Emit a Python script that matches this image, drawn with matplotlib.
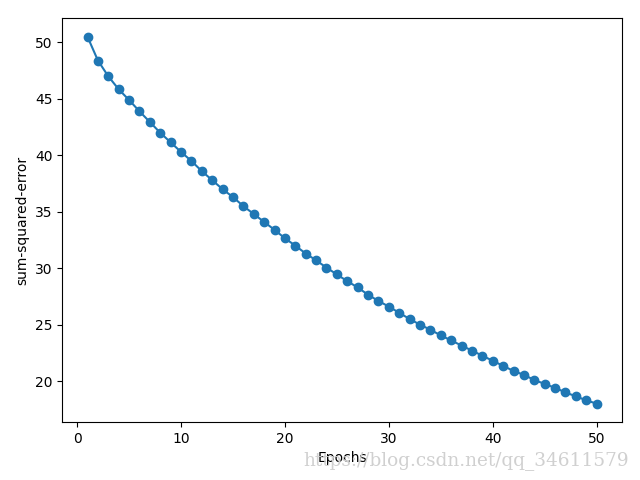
import matplotlib
matplotlib.use("Agg")
import matplotlib.pyplot as plt

epochs = list(range(1, 51))
sse = [50.5, 48.4, 47.0, 45.85, 44.9, 43.9, 42.95, 42.0, 41.15, 40.3,
       39.5, 38.6, 37.8, 37.0, 36.3, 35.5, 34.8, 34.1, 33.4, 32.65,
       32.0, 31.3, 30.7, 30.05, 29.45, 28.85, 28.3, 27.65, 27.1, 26.6,
       26.05, 25.5, 25.0, 24.55, 24.05, 23.6, 23.15, 22.7, 22.25, 21.8,
       21.35, 20.9, 20.55, 20.1, 19.75, 19.4, 19.0, 18.65, 18.3, 18.0]

fig, ax = plt.subplots(figsize=(6.4, 4.8), dpi=100)
fig.subplots_adjust(left=0.097, right=0.972, top=0.9615, bottom=0.1208)
ax.plot(epochs, sse, marker='o')
ax.set_xlabel('Epochs')
ax.set_ylabel('sum-squared-error')
fig.text(0.982, 0.041, 'https://blog.csdn.net/qq_34611579', ha='right', va='center',
         fontsize=13.3, color='#d0d0d0', family='DejaVu Serif')
fig.savefig('out.png')
